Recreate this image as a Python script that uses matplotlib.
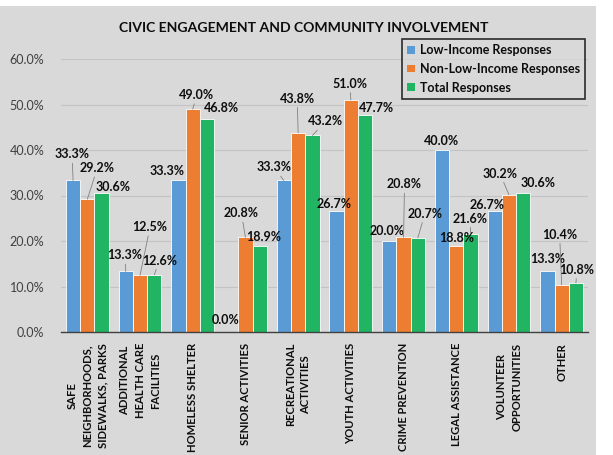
import matplotlib
matplotlib.use("Agg")
import matplotlib.pyplot as plt
from matplotlib.patches import Patch, Rectangle
import numpy as np

plt.rcParams["font.family"] = ["Lato", "DejaVu Sans"]

# ── Data ──────────────────────────────────────────────────────
categories = [
    "SAFE\nNEIGHBORHOODS,\nSIDEWALKS, PARKS",
    "ADDITIONAL\nHEALTH CARE\nFACILITIES",
    "HOMELESS SHELTER",
    "SENIOR ACTIVITIES",
    "RECREATIONAL\nACTIVITIES",
    "YOUTH ACTIVITIES",
    "CRIME PREVENTION",
    "LEGAL ASSISTANCE",
    "VOLUNTEER\nOPPORTUNITIES",
    "OTHER",
]
series_names = ["Low-Income Responses", "Non-Low-Income Responses", "Total Responses"]
low_income = [33.3, 13.3, 33.3, 0.0, 33.3, 26.7, 20.0, 40.0, 26.7, 13.3]
non_low_income = [29.2, 12.5, 49.0, 20.8, 43.8, 51.0, 20.8, 18.8, 30.2, 10.4]
total = [30.6, 12.6, 46.8, 18.9, 43.2, 47.7, 20.7, 21.6, 30.6, 10.8]
y_ticks = [0, 10, 20, 30, 40, 50, 60]

# ── Style ─────────────────────────────────────────────────────
BG = "#d9d9d9"
COLORS = ["#5b9bd5", "#ed7d31", "#21b463"]
TEXT = "#0d0d0d"

# data label offsets from bar top (pixels), per series, per category
label_offsets = [
    [(-1, 26), (-1, 16), (-11, 9), (-6, 12), (-10, 13), (-2, 7), (-2, 10), (-1, 9), (-8, 6), (0, 12)],
    [(10, 31), (10, 48), (4, 14), (-4, 24), (-1, 34), (-1, 16), (1, 53), (0, 8), (-9, 21), (-2, 50)],
    [(11, 6), (5, 14), (14, 11), (4, 9), (13, 14), (11, 7), (7, 24), (0, 15), (15, 10), (1, 13)],
]

fig = plt.figure(figsize=(6.13, 4.55), dpi=100)
fig.patch.set_facecolor("white")
fig.add_artist(Rectangle((0, 0), 596 / 613, 449 / 455, transform=fig.transFigure,
                         facecolor=BG, edgecolor="none", zorder=-10))

ax = fig.add_axes([61 / 613, 1 - 332 / 455, 527 / 613, 273 / 455])
ax.set_facecolor(BG)

x = np.arange(len(categories))
width = 0.271
series = [low_income, non_low_income, total]

for i, (vals, col, name) in enumerate(zip(series, COLORS, series_names)):
    xs = x + (i - 1) * width
    ax.bar(xs, vals, width=width, color=col, edgecolor="white", linewidth=0.6,
           label=name, zorder=2)
    for xi, v, (dx, dy) in zip(xs, vals, label_offsets[i]):
        arrow = None
        if dy >= 13:
            arrow = dict(arrowstyle="-", color="#808080", lw=0.6, shrinkA=0, shrinkB=0)
        ax.annotate(f"{v:.1f}%", xy=(xi, v), xytext=(dx, dy),
                    textcoords="offset pixels", ha="center", va="center",
                    fontsize=9, fontweight="bold", color=TEXT,
                    arrowprops=arrow, annotation_clip=False, zorder=5)

ax.set_xlim(-0.5, len(categories) - 0.5)
ax.set_ylim(0, 60)
ax.set_yticks(y_ticks)
ax.set_yticklabels([f"{t:.1f}%" for t in y_ticks], fontsize=9, color="#404040")
ax.set_xticks(x)
ax.set_xticklabels(categories, rotation=90, fontsize=8.1, fontweight="bold",
                   color=TEXT, ha="center", va="top", linespacing=1.5,
                   multialignment="center")
ax.tick_params(axis="both", length=0)
ax.tick_params(axis="x", pad=8)
ax.tick_params(axis="y", pad=12)

ax.yaxis.grid(True, color="#c3c3c3", linewidth=0.8, zorder=0)
ax.set_axisbelow(True)
for side in ["top", "right", "left"]:
    ax.spines[side].set_visible(False)
ax.spines["bottom"].set_color("#404040")
ax.spines["bottom"].set_linewidth(1.0)

fig.text(304 / 613, 1 - 28 / 455, "CIVIC ENGAGEMENT AND COMMUNITY INVOLVEMENT",
         ha="center", va="center", fontsize=10.1, fontweight="bold", color=TEXT)

handles = [Patch(facecolor=c, edgecolor="none") for c in COLORS]
leg = fig.legend(handles, series_names, loc="upper right",
                 bbox_to_anchor=(585 / 613, 1 - 39 / 455),
                 prop={"size": 9, "weight": "bold"}, frameon=True, fancybox=False,
                 facecolor=BG, edgecolor="black", handlelength=0.6, handleheight=0.6,
                 handletextpad=0.4, labelspacing=0.55, borderpad=0.4,
                 borderaxespad=0)
leg.get_frame().set_linewidth(1.2)
for t in leg.get_texts():
    t.set_color(TEXT)

fig.savefig("out.png", dpi=100, facecolor=fig.get_facecolor())
